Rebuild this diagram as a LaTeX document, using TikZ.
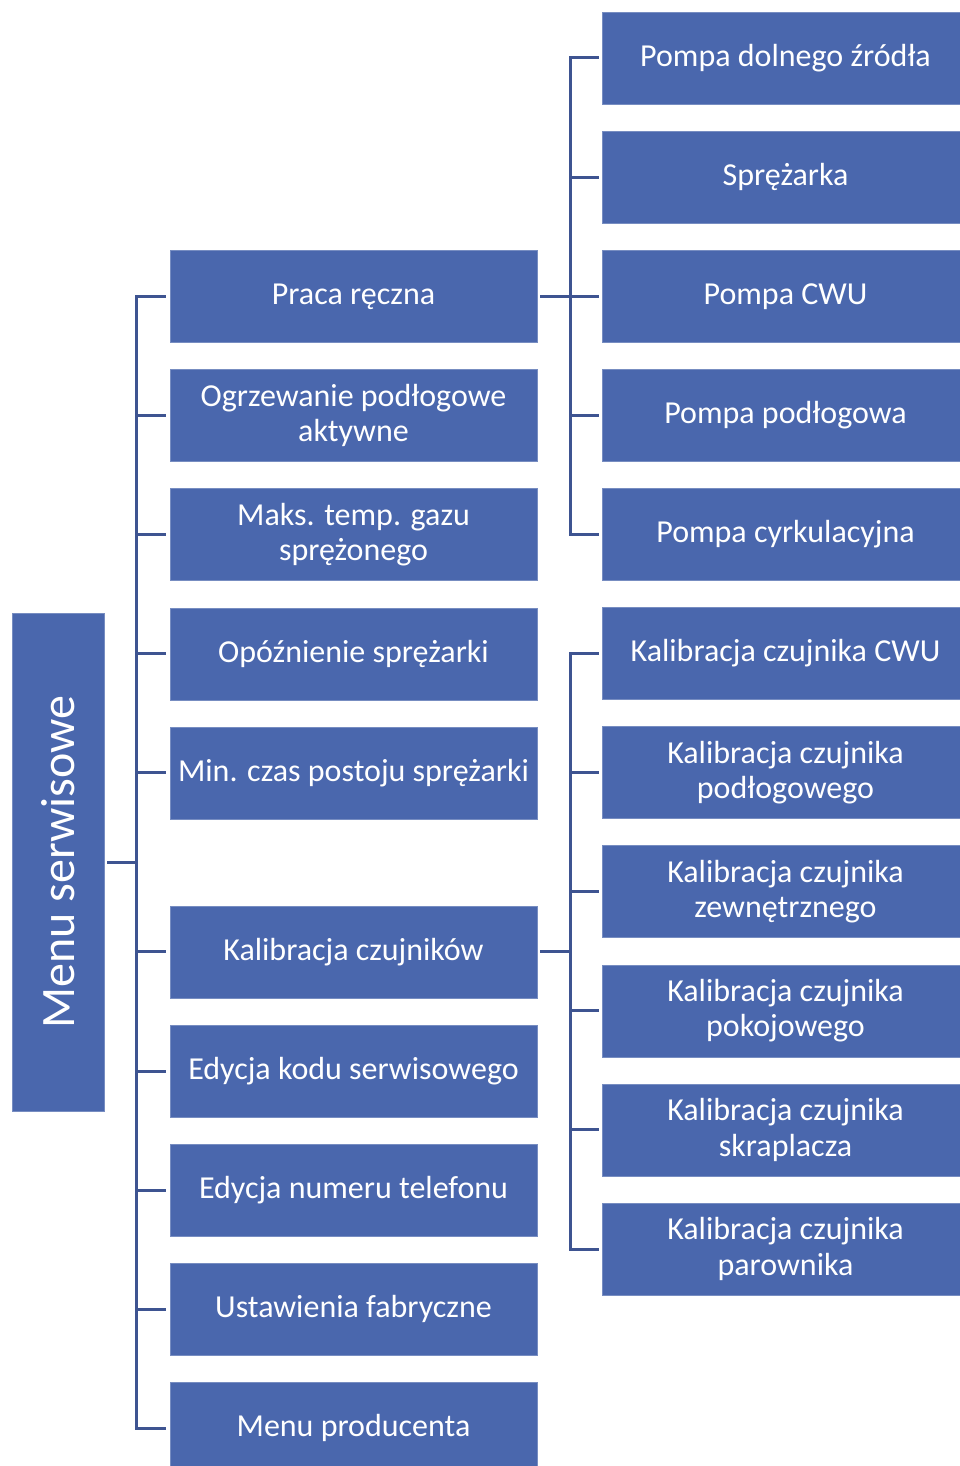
\documentclass[tikz,border=0pt]{standalone}
\usepackage{fontspec}
\setmainfont{Carlito}
\usetikzlibrary{positioning}
\definecolor{boxblue}{HTML}{4A67AD}
\definecolor{lineblue}{HTML}{3E5491}
\tikzset{%
  % Specifications for style of nodes:
        base/.style = {rectangle, fill=boxblue, draw=boxblue!75!white,
                       line width=0.6pt, outer sep=0pt, minimum height=92pt,
                       inner xsep=0pt, align=center, text=white,
                       font=\fontsize{32}{35.5}\selectfont},
     topmenu/.style = {base, minimum width=92pt, minimum height=498pt,
                       font=\fontsize{48}{52}\selectfont},
      option/.style = {base, minimum width=367pt},
   suboption/.style = {base, minimum width=367pt},
  % Specifications for style of connectors:
        conn/.style = {draw=lineblue, line width=3pt},
}

\begin{document}
\begin{tikzpicture}[x=1pt, y=-1pt, node distance=27.1pt]
\useasboundingbox (0,0) rectangle (960,1466);

\node (menu)      [topmenu] at (58,862)        {\rotatebox{90}{Menu serwisowe}};

\node (praca)     [option] at (353.5,296.5)    {Praca ręczna};
\node (ogrz)      [option, below=of praca]     {Ogrzewanie podłogowe\\aktywne};
\node (maks)      [option, below=of ogrz]      {Maks. temp. gazu\\sprężonego};
\node (opozn)     [option, below=of maks]      {Opóźnienie sprężarki};
\node (postoj)    [option, below=of opozn]     {Min. czas postoju sprężarki};
\node (kalib)     [option, below=87pt of postoj] {Kalibracja czujników};
\node (kod)       [option, below=of kalib]     {Edycja kodu serwisowego};
\node (tel)       [option, below=of kod]       {Edycja numeru telefonu};
\node (fabr)      [option, below=of tel]       {Ustawienia fabryczne};
\node (prod)      [option, below=of fabr]      {Menu producenta};

\node (pompaDZ)   [suboption] at (785.5,58)    {Pompa dolnego źródła};
\node (sprez)     [suboption, below=of pompaDZ]   {Sprężarka};
\node (pompaCWU)  [suboption, below=of sprez]     {Pompa CWU};
\node (pompaPodl) [suboption, below=of pompaCWU]  {Pompa podłogowa};
\node (pompaCyrk) [suboption, below=of pompaPodl] {Pompa cyrkulacyjna};
\node (kalCWU)    [suboption, below=of pompaCyrk] {Kalibracja czujnika CWU};
\node (kalPodl)   [suboption, below=of kalCWU]    {Kalibracja czujnika\\podłogowego};
\node (kalZewn)   [suboption, below=of kalPodl]   {Kalibracja czujnika\\zewnętrznego};
\node (kalPok)    [suboption, below=of kalZewn]   {Kalibracja czujnika\\pokojowego};
\node (kalSkr)    [suboption, below=of kalPok]    {Kalibracja czujnika\\skraplacza};
\node (kalPar)    [suboption, below=of kalSkr]    {Kalibracja czujnika\\parownika};

% Menu serwisowe -> options
\draw[conn] ([xshift=3pt]menu.east) -- ++(29pt,0) |- ([xshift=-4pt]praca.west);
\draw[conn] ([xshift=3pt]menu.east) -- ++(29pt,0) |- ([xshift=-4pt]ogrz.west);
\draw[conn] ([xshift=3pt]menu.east) -- ++(29pt,0) |- ([xshift=-4pt]maks.west);
\draw[conn] ([xshift=3pt]menu.east) -- ++(29pt,0) |- ([xshift=-4pt]opozn.west);
\draw[conn] ([xshift=3pt]menu.east) -- ++(29pt,0) |- ([xshift=-4pt]postoj.west);
\draw[conn] ([xshift=3pt]menu.east) -- ++(29pt,0) |- ([xshift=-4pt]kalib.west);
\draw[conn] ([xshift=3pt]menu.east) -- ++(29pt,0) |- ([xshift=-4pt]kod.west);
\draw[conn] ([xshift=3pt]menu.east) -- ++(29pt,0) |- ([xshift=-4pt]tel.west);
\draw[conn] ([xshift=3pt]menu.east) -- ++(29pt,0) |- ([xshift=-4pt]fabr.west);
\draw[conn] ([xshift=3pt]menu.east) -- ++(29pt,0) |- ([xshift=-4pt]prod.west);

% Praca reczna -> pumps
\draw[conn] ([xshift=3pt]praca.east) -- ++(30pt,0) |- ([xshift=-3pt]pompaDZ.west);
\draw[conn] ([xshift=3pt]praca.east) -- ++(30pt,0) |- ([xshift=-3pt]sprez.west);
\draw[conn] ([xshift=3pt]praca.east) -- ++(30pt,0) |- ([xshift=-3pt]pompaCWU.west);
\draw[conn] ([xshift=3pt]praca.east) -- ++(30pt,0) |- ([xshift=-3pt]pompaPodl.west);
\draw[conn] ([xshift=3pt]praca.east) -- ++(30pt,0) |- ([xshift=-3pt]pompaCyrk.west);

% Kalibracja czujnikow -> sensors
\draw[conn] ([xshift=3pt]kalib.east) -- ++(30pt,0) |- ([xshift=-3pt]kalCWU.west);
\draw[conn] ([xshift=3pt]kalib.east) -- ++(30pt,0) |- ([xshift=-3pt]kalPodl.west);
\draw[conn] ([xshift=3pt]kalib.east) -- ++(30pt,0) |- ([xshift=-3pt]kalZewn.west);
\draw[conn] ([xshift=3pt]kalib.east) -- ++(30pt,0) |- ([xshift=-3pt]kalPok.west);
\draw[conn] ([xshift=3pt]kalib.east) -- ++(30pt,0) |- ([xshift=-3pt]kalSkr.west);
\draw[conn] ([xshift=3pt]kalib.east) -- ++(30pt,0) |- ([xshift=-3pt]kalPar.west);
\end{tikzpicture}
\end{document}
